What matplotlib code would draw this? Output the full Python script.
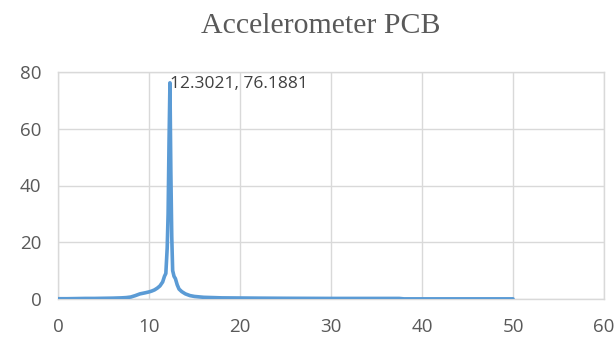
import matplotlib
matplotlib.use("Agg")
import matplotlib.pyplot as plt
import numpy as np

# Frequency (Hz) and amplitude of the measured spectrum
freq = [0, 1, 2, 3, 4, 5, 6, 7, 7.5, 8, 8.5, 9, 9.3, 9.6, 10, 10.3, 10.6, 10.9,
        11.2, 11.5, 11.7, 11.85, 12.0, 12.1, 12.2, 12.3021, 12.4, 12.5, 12.6,
        12.75, 12.9, 13.1, 13.3, 13.6, 14.0, 14.5, 15, 16, 17, 18, 20, 22, 25,
        30, 35, 37.5, 38, 40, 45, 50]
amp = [0.1, 0.1, 0.15, 0.2, 0.2, 0.25, 0.3, 0.4, 0.5, 0.7, 1.2, 1.8, 2.0, 2.2,
       2.5, 2.8, 3.2, 3.8, 4.6, 6.0, 8.0, 9.0, 18.0, 30.0, 55.0, 76.1881, 45.0,
       22.0, 10.0, 8.0, 7.2, 5.0, 3.5, 2.6, 1.8, 1.2, 0.9, 0.6, 0.5, 0.4, 0.35,
       0.3, 0.25, 0.2, 0.2, 0.2, 0.05, 0.05, 0.05, 0.05]

peak_x, peak_y = 12.3021, 76.1881

title = "Accelerometer PCB"
x_ticks = [0, 10, 20, 30, 40, 50, 60]
y_ticks = [0, 20, 40, 60, 80]

fig = plt.figure(figsize=(6.16, 3.39), dpi=100)
ax = fig.add_axes([58 / 616, 1 - 299 / 339, (604 - 58) / 616, (299 - 72) / 339])

ax.plot(freq, amp, color="#5B9BD5", linewidth=2.6, solid_joinstyle="round",
        solid_capstyle="round", zorder=3)

ax.set_xlim(0, 60)
ax.set_ylim(0, 80)
ax.set_xticks(x_ticks)
ax.set_yticks(y_ticks)
ax.grid(True, color="#D9D9D9", linewidth=1.0)
ax.set_axisbelow(True)
for s in ax.spines.values():
    s.set_color("#D9D9D9")
    s.set_linewidth(1.0)
ax.tick_params(length=0, labelsize=13.5, colors="#595959")
ax.tick_params(axis="x", pad=14)
ax.tick_params(axis="y", pad=12)
for lab in ax.get_xticklabels() + ax.get_yticklabels():
    lab.set_fontfamily("Open Sans")

ax.annotate(f"{peak_x}, {peak_y}", xy=(peak_x, peak_y), xytext=(0, -1),
            textcoords="offset points", ha="left", va="center",
            fontsize=12.5, color="#404040", family="Open Sans")

fig.text(0.52, 1 - 26 / 339, title, ha="center", va="center",
         fontsize=21.5, color="#595959", family="Liberation Serif")

fig.savefig("out.png", dpi=100)
